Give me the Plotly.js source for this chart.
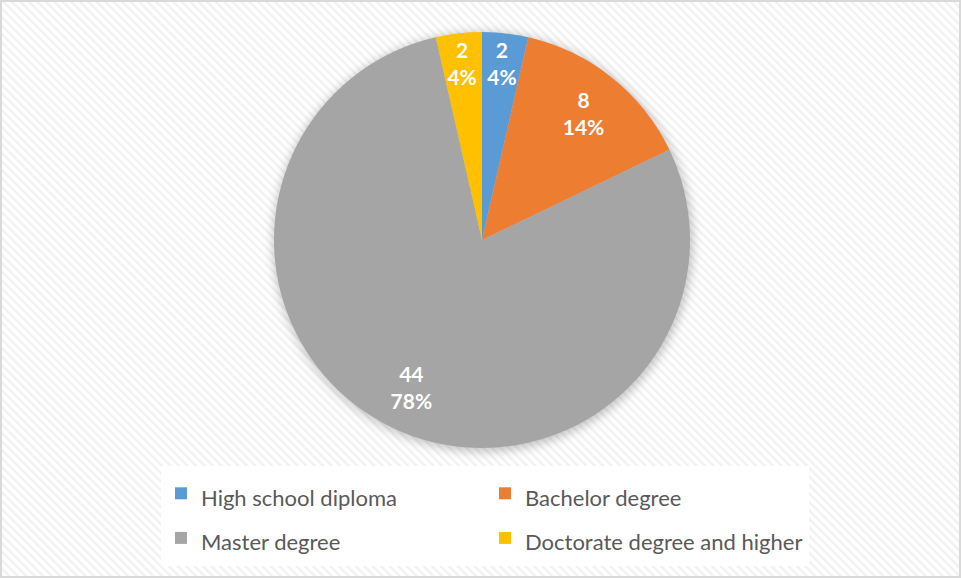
<!DOCTYPE html>
<html>
<head>
<meta charset="utf-8">
<script src="https://cdn.plot.ly/plotly-3.0.1.min.js"></script>
<style>
html,body{margin:0;padding:0;background:#fff;}
#chart{width:961px;height:578px;}
</style>
</head>
<body>
<div id="chart"></div>
<script>
var categories = ["High school diploma", "Bachelor degree", "Master degree", "Doctorate degree and higher"];
var counts = [2, 8, 44, 2];
var percentLabels = ["4%", "14%", "78%", "4%"];
var sliceColors = ["#5B9BD5", "#ED7D31", "#A5A5A5", "#FFC000"];

var W = 961, H = 578;
var M = {l: 175, r: 260, t: 0, b: 115};
var PW = W - M.l - M.r, PH = H - M.t - M.b;

var bgSvg = '<svg xmlns="http://www.w3.org/2000/svg" width="961" height="578" viewBox="0 0 961 578">' +
  '<defs><pattern id="p" width="6" height="6" patternUnits="userSpaceOnUse" patternTransform="rotate(-45)">' +
  '<rect width="6" height="6" fill="#ffffff"/><rect x="0" y="0" width="2.4" height="6" fill="#f1f1f1"/></pattern>' +
  '<filter id="b" x="-20%" y="-20%" width="140%" height="140%"><feGaussianBlur stdDeviation="5"/></filter></defs>' +
  '<rect x="0" y="0" width="961" height="578" fill="url(#p)"/>' +
  '<circle cx="483" cy="242" r="210" fill="#000" fill-opacity="0.22" filter="url(#b)"/>' +
  '<rect x="1" y="1" width="959" height="576" fill="none" stroke="#d9d9d9" stroke-width="2"/>' +
  '</svg>';
var bgUri = 'data:image/svg+xml;charset=utf-8,' + encodeURIComponent(bgSvg);

var CX = 482, CY = 240, R = 208, RL = 198;
function domainFor(rad) {
  return {
    x: [(CX - rad - M.l) / PW, (CX + rad - M.l) / PW],
    y: [1 - (CY + rad - M.t) / PH, 1 - (CY - rad - M.t) / PH]
  };
}

var textArr = counts.map(function (c, i) { return "<b>" + c + "<br>" + percentLabels[i] + "</b>"; });
var legendLabels = categories.map(function (c) { return '<span style="font-size:22px">' + c + '</span>'; });
var labelFont = {family: "Lato, 'Open Sans', sans-serif", size: 21, color: "#ffffff", weight: "bold"};

var pieTrace = {
  type: "pie",
  labels: legendLabels,
  values: counts,
  sort: false,
  direction: "clockwise",
  rotation: 0,
  marker: {colors: sliceColors, line: {color: "#ffffff", width: 0}},
  textinfo: "none",
  hoverinfo: "label+value+percent",
  domain: domainFor(R),
  showlegend: true
};

var labelTrace = {
  type: "pie",
  labels: legendLabels,
  values: counts,
  sort: false,
  direction: "clockwise",
  rotation: 0,
  hole: 0.645,
  marker: {colors: ["rgba(0,0,0,0)", "rgba(0,0,0,0)", "rgba(0,0,0,0)", "rgba(0,0,0,0)"], line: {width: 0}},
  text: textArr,
  textinfo: "text",
  textposition: "inside",
  insidetextorientation: "horizontal",
  textfont: labelFont,
  insidetextfont: labelFont,
  hoverinfo: "skip",
  domain: domainFor(RL),
  showlegend: false
};

var layout = {
  width: W,
  height: H,
  margin: M,
  paper_bgcolor: "#ffffff",
  plot_bgcolor: "rgba(0,0,0,0)",
  uniformtext: {minsize: 21, mode: "show"},
  images: [{source: bgUri, xref: "paper", yref: "paper",
            x: -M.l / PW, y: 1 + M.t / PH, sizex: W / PW, sizey: H / PH,
            sizing: "stretch", xanchor: "left", yanchor: "top", layer: "below"}],
  showlegend: true,
  legend: {
    orientation: "h",
    x: (161 - M.l) / PW, xanchor: "left",
    y: -(466 - PH - M.t) / PH, yanchor: "top",
    bgcolor: "#ffffff",
    entrywidth: 279,
    traceorder: "normal",
    font: {family: "Lato, 'Open Sans', sans-serif", size: 32, color: "#595959"}
  }
};

Plotly.newPlot("chart", [pieTrace, labelTrace], layout, {displayModeBar: false, staticPlot: true});
</script>
</body>
</html>
